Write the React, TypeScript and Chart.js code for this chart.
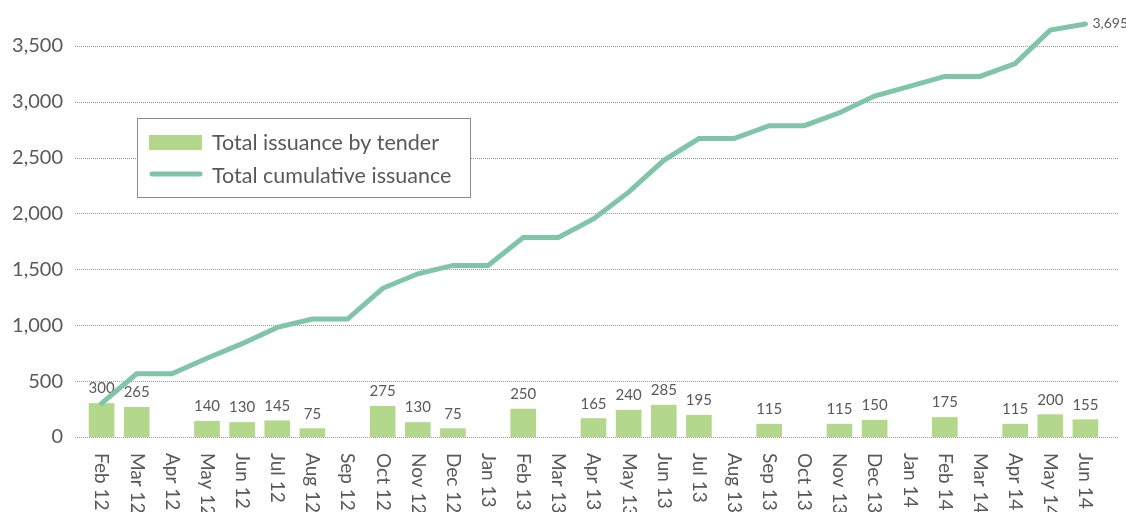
import React, { useEffect, useRef } from "react";
import { Chart, registerables } from "chart.js";

Chart.register(...registerables);

const months = [
  "Feb 12", "Mar 12", "Apr 12", "May 12", "Jun 12", "Jul 12", "Aug 12", "Sep 12",
  "Oct 12", "Nov 12", "Dec 12", "Jan 13", "Feb 13", "Mar 13", "Apr 13", "May 13",
  "Jun 13", "Jul 13", "Aug 13", "Sep 13", "Oct 13", "Nov 13", "Dec 13", "Jan 14",
  "Feb 14", "Mar 14", "Apr 14", "May 14", "Jun 14",
];

const tenderIssuance = [
  300, 265, null, 140, 130, 145, 75, null,
  275, 130, 75, null, 250, null, 165, 240,
  285, 195, null, 115, null, 115, 150, null,
  175, null, 115, 200, 155,
];

const cumulativeIssuance = [
  300, 565, 565, 705, 835, 980, 1055, 1055,
  1330, 1460, 1535, 1535, 1785, 1785, 1950, 2190,
  2475, 2670, 2670, 2785, 2785, 2900, 3050, null,
  3225, 3225, 3340, 3640, 3695,
];

const yTicks = [0, 500, 1000, 1500, 2000, 2500, 3000, 3500];

const seriesNames = ["Total issuance by tender", "Total cumulative issuance"];
const lastLabel = "3,695";

const BAR_COLOR = "#b3d78b";
const LINE_COLOR = "#80c5a8";
const TEXT_COLOR = "#595959";
const FONT = "Lato, 'Noto Sans', sans-serif";

const customPlugin = {
  id: "custom",
  beforeDatasetsDraw(chart: any) {
    const ctx = chart.ctx;
    const y = chart.scales.y;
    ctx.save();
    ctx.strokeStyle = "#9a9a9a";
    ctx.lineWidth = 1;
    ctx.setLineDash([1, 1]);
    yTicks.forEach((v) => {
      const py = Math.round(y.getPixelForValue(v)) + 0.5;
      ctx.beginPath();
      ctx.moveTo(75, py);
      ctx.lineTo(1118, py);
      ctx.stroke();
    });
    ctx.restore();
  },
  afterDatasetDraw(chart: any, args: any) {
    if (args.index !== 0) return;
    const ctx = chart.ctx;
    const meta = chart.getDatasetMeta(0);
    ctx.save();
    ctx.fillStyle = TEXT_COLOR;
    ctx.font = `15px ${FONT}`;
    ctx.textAlign = "center";
    ctx.textBaseline = "alphabetic";
    meta.data.forEach((bar: any, i: number) => {
      const v = tenderIssuance[i];
      if (v == null) return;
      ctx.fillText(String(v), bar.x, bar.y - 10);
    });
    ctx.restore();
  },
  afterDraw(chart: any) {
    const ctx = chart.ctx;
    const x = chart.scales.x;
    ctx.save();
    // x labels rotated clockwise
    ctx.fillStyle = TEXT_COLOR;
    ctx.font = `19px ${FONT}`;
    ctx.textAlign = "left";
    ctx.textBaseline = "middle";
    months.forEach((m, i) => {
      const px = x.getPixelForValue(i);
      ctx.save();
      ctx.translate(px, 453);
      ctx.rotate(Math.PI / 2);
      ctx.fillText(m, 0, 0);
      ctx.restore();
    });

    // end label
    const lineMeta = chart.getDatasetMeta(1);
    const last = lineMeta.data[lineMeta.data.length - 1];
    ctx.font = `14px ${FONT}`;
    ctx.textBaseline = "middle";
    ctx.fillText(lastLabel, last.x + 7, last.y);

    // legend
    ctx.fillStyle = "#ffffff";
    ctx.fillRect(137.5, 118.5, 333, 79);
    ctx.strokeStyle = "#8c8c8c";
    ctx.lineWidth = 1;
    ctx.strokeRect(137.5, 118.5, 333, 79);
    ctx.fillStyle = BAR_COLOR;
    ctx.fillRect(149, 135, 53, 15);
    ctx.strokeStyle = LINE_COLOR;
    ctx.lineWidth = 5;
    ctx.lineCap = "round";
    ctx.beginPath();
    ctx.moveTo(152, 174);
    ctx.lineTo(200, 174);
    ctx.stroke();
    ctx.fillStyle = TEXT_COLOR;
    ctx.font = `21.5px ${FONT}`;
    ctx.textAlign = "left";
    ctx.textBaseline = "middle";
    ctx.fillText(seriesNames[0], 212, 143);
    ctx.fillText(seriesNames[1], 212, 176);
    ctx.restore();
  },
};

export default function App() {
  const ref = useRef<HTMLCanvasElement>(null);

  useEffect(() => {
    if (!ref.current) return;
    const chart = new Chart(ref.current, {
      type: "bar",
      data: {
        labels: months,
        datasets: [
          {
            type: "bar",
            label: seriesNames[0],
            data: tenderIssuance as any,
            backgroundColor: BAR_COLOR,
            barThickness: 25,
            order: 2,
          },
          {
            type: "line",
            label: seriesNames[1],
            data: cumulativeIssuance as any,
            borderColor: LINE_COLOR,
            backgroundColor: LINE_COLOR,
            borderWidth: 5,
            pointRadius: 0,
            tension: 0,
            spanGaps: true,
            borderCapStyle: "round",
            borderJoinStyle: "miter",
            order: 1,
          },
        ],
      },
      options: {
        responsive: false,
        animation: false,
        devicePixelRatio: 1,
        layout: { padding: { top: 1, right: 23, left: 0, bottom: 0 } },
        plugins: {
          legend: { display: false },
          tooltip: { enabled: false },
        },
        scales: {
          x: {
            grid: { display: false },
            border: { display: false },
            ticks: { display: false },
            afterFit: (s: any) => {
              s.height = 75;
              s.paddingLeft = 0;
              s.paddingRight = 0;
            },
          },
          y: {
            min: 0,
            max: 3900,
            grid: { display: false, drawTicks: false },
            border: { display: false },
            ticks: {
              padding: 21,
              color: TEXT_COLOR,
              font: { family: FONT, size: 20 },
              callback: (v: any) => Number(v).toLocaleString("en-US"),
            },
            afterBuildTicks: (s: any) => {
              s.ticks = yTicks.map((v) => ({ value: v }));
            },
            afterFit: (s: any) => {
              s.width = 84;
              s.paddingTop = 0;
              s.paddingBottom = 0;
            },
          },
        },
      },
      plugins: [customPlugin],
    });
    return () => chart.destroy();
  }, []);

  return (
    <div style={{ position: "absolute", left: 0, top: 0, width: 1126, height: 512 }}>
      <canvas ref={ref} width={1126} height={512} />
    </div>
  );
}
